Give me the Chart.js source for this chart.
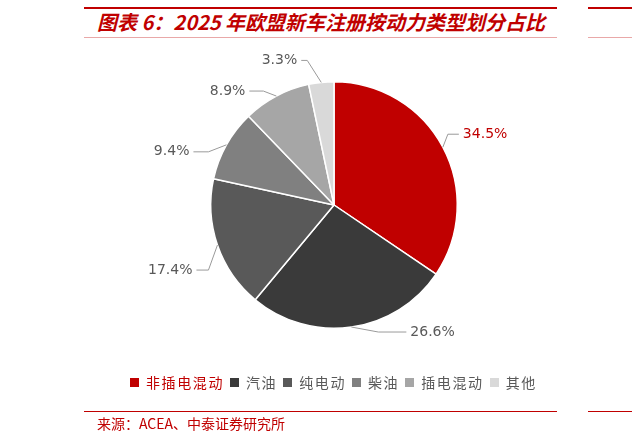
<!DOCTYPE html>
<html>
<head>
<meta charset="utf-8">
<script src="https://cdn.jsdelivr.net/npm/chart.js@4.4.1/dist/chart.umd.min.js"></script>
<style>
  html, body { margin: 0; padding: 0; background: #fff; }
  #wrap { position: relative; width: 632px; height: 442px; overflow: hidden; background: #fff; }
  #c { position: absolute; left: 0; top: 0; }
  .rule { position: absolute; height: 0; }
  #title { position: absolute; left: 97px; top: 8px; font-family: "Noto Sans CJK SC", sans-serif; font-weight: bold; font-style: italic; font-size: 20px; color: #C00000; white-space: nowrap; line-height: 28px; }
  #source { position: absolute; left: 97px; top: 413px; font-family: "Noto Sans CJK SC", sans-serif; font-size: 14px; color: #C00000; white-space: nowrap; line-height: 20px; }
  #legend { position: absolute; left: 130px; top: 372px; display: flex; align-items: center; font-family: "Noto Sans CJK SC", sans-serif; font-size: 14px; letter-spacing: 1.6px; color: #595959; white-space: nowrap; line-height: 20px; }
  #legend .box { display: inline-block; width: 9px; height: 9px; margin-right: 7px; }
  #legend .item { display: flex; align-items: center; margin-right: 6px; }
</style>
</head>
<body>
<div id="wrap">
  <div class="rule" style="left:84px; top:7px; width:473px; border-top:2.5px solid #C00000;"></div>
  <div class="rule" style="left:588px; top:7px; width:44px; border-top:2.5px solid #C00000;"></div>
  <div id="title">图表 6：2025 年欧盟新车注册按动力类型划分占比</div>
  <div class="rule" style="left:84px; top:37px; width:473px; border-top:1px solid #E9A8A8;"></div>
  <div class="rule" style="left:588px; top:37px; width:44px; border-top:1px solid #E9A8A8;"></div>
  <canvas id="c" width="632" height="442"></canvas>
  <div id="legend"></div>
  <div class="rule" style="left:84px; top:411px; width:473px; border-top:1.2px solid #C00000;"></div>
  <div class="rule" style="left:588px; top:411px; width:44px; border-top:1.2px solid #C00000;"></div>
  <div id="source">来源：ACEA、中泰证券研究所</div>
</div>
<script>
// ---- data ----
const categories = ['非插电混动', '汽油', '纯电动', '柴油', '插电混动', '其他'];
const shares = [34.5, 26.6, 17.4, 9.4, 8.9, 3.3];
const valueLabels = ['34.5%', '26.6%', '17.4%', '9.4%', '8.9%', '3.3%'];

// ---- styles ----
const sliceColors = ['#C00000', '#3A3A3A', '#595959', '#808080', '#A6A6A6', '#D9D9D9'];
const labelColors = ['#C00000', '#595959', '#595959', '#595959', '#595959', '#595959'];
const legendTextColors = ['#C00000', '#595959', '#595959', '#595959', '#595959', '#595959'];
// leader-line layout: [dx, dy] from slice edge to elbow, then horizontal run
const leaderNudges = [[5, -13, 11], [27, 5, 28], [-9, 25, -12], [-18, 7, -15], [-13, -5, -14], [-14, -22, -6]];

const leaderPlugin = {
  id: 'leaders',
  afterDatasetsDraw(chart) {
    const ctx = chart.ctx;
    const meta = chart.getDatasetMeta(0);
    meta.data.forEach((arc, i) => {
      const p = arc.getProps(['x', 'y', 'startAngle', 'endAngle', 'outerRadius'], true);
      const mid = (p.startAngle + p.endAngle) / 2;
      const ex = p.x + Math.cos(mid) * p.outerRadius;
      const ey = p.y + Math.sin(mid) * p.outerRadius;
      const n = leaderNudges[i];
      const bx = ex + n[0], by = ey + n[1];
      const tx = bx + n[2];
      ctx.save();
      ctx.strokeStyle = '#9A9A9A';
      ctx.lineWidth = 1;
      ctx.beginPath();
      ctx.moveTo(ex, ey);
      ctx.lineTo(bx, by);
      ctx.lineTo(tx, by);
      ctx.stroke();
      ctx.fillStyle = labelColors[i];
      ctx.font = '14px "DejaVu Sans", sans-serif';
      ctx.textBaseline = 'middle';
      const right = n[2] > 0;
      ctx.textAlign = right ? 'left' : 'right';
      ctx.fillText(valueLabels[i], tx + (right ? 4 : -4), by);
      ctx.restore();
    });
  }
};

new Chart(document.getElementById('c'), {
  type: 'pie',
  data: {
    labels: categories,
    datasets: [{
      data: shares,
      backgroundColor: sliceColors,
      borderColor: '#FFFFFF',
      borderWidth: 1.5
    }]
  },
  options: {
    responsive: false,
    animation: false,
    devicePixelRatio: 1,
    layout: { padding: { left: 210, right: 174, top: 81, bottom: 113 } },
    plugins: { legend: { display: false }, tooltip: { enabled: false } }
  },
  plugins: [leaderPlugin]
});

// HTML legend built from the arrays
const lg = document.getElementById('legend');
categories.forEach((name, i) => {
  const item = document.createElement('span');
  item.className = 'item';
  const box = document.createElement('span');
  box.className = 'box';
  box.style.background = sliceColors[i];
  const t = document.createElement('span');
  t.textContent = name;
  t.style.color = legendTextColors[i];
  item.appendChild(box);
  item.appendChild(t);
  lg.appendChild(item);
});
</script>
</body>
</html>
